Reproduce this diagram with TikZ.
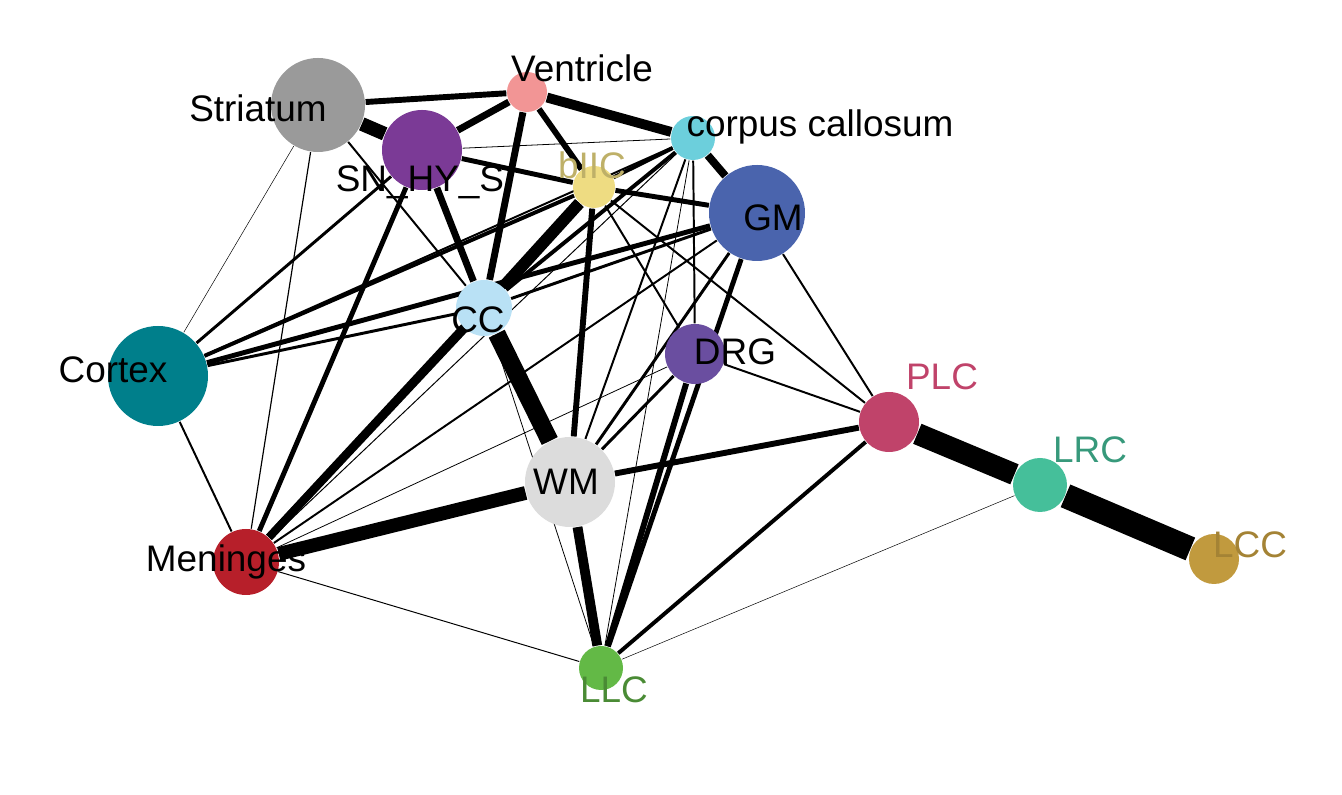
\documentclass[tikz,border=0pt]{standalone}
\usepackage{fontspec}
\setmainfont{Liberation Sans}
\usetikzlibrary{backgrounds}
\definecolor{cStr}{HTML}{9A9A9A}
\definecolor{cSN}{HTML}{7B3A96}
\definecolor{cVen}{HTML}{F29595}
\definecolor{cCor}{HTML}{6CCFDC}
\definecolor{cBIIC}{HTML}{EEDC82}
\definecolor{cGM}{HTML}{4A64AD}
\definecolor{cCC}{HTML}{B9E1F5}
\definecolor{cCtx}{HTML}{007F8B}
\definecolor{cDRG}{HTML}{6A4EA0}
\definecolor{cPLC}{HTML}{C0436A}
\definecolor{cLRC}{HTML}{45BF9A}
\definecolor{cLCC}{HTML}{C19A3E}
\definecolor{cWM}{HTML}{DCDCDC}
\definecolor{cMen}{HTML}{B71F2A}
\definecolor{cLLC}{HTML}{63B946}
\tikzset{
  vtx/.style={circle, inner sep=0pt},
  lbl/.style={inner sep=0pt, font=\fontsize{10.5}{12}\selectfont},
}
\begin{document}
\begin{tikzpicture}[x=0.01cm, y=-0.01cm]
    \useasboundingbox (0,0) rectangle (1342,795);
    % Vertices
    \foreach \n/\x/\y/\d/\c in {Str/318/105/94/cStr, SN/422/150/80/cSN, Ven/527/92/40/cVen,
        Cor/693/138/44/cCor, BIIC/594/187/42/cBIIC, GM/757/213/96/cGM, CC/484/308/56/cCC,
        Ctx/158/376/100/cCtx, DRG/695/354/60/cDRG, PLC/889/422/60/cPLC, LRC/1040/485/54/cLRC,
        LCC/1214/559/50/cLCC, WM/570/482/90/cWM, Men/246/562/66/cMen, LLC/601/668/44/cLLC} {
        \node[vtx, fill=\c, minimum size=\d*0.01cm] (\n) at (\x,\y) {};
    }
    % Edges (width in px)
    \begin{scope}[on background layer]
    \foreach \a/\b/\w in {Str/Ven/6, Str/SN/14, Str/Ctx/0.5, Str/Men/1.2, Str/CC/2,
        SN/Ven/7, SN/CC/7, SN/Men/5, SN/Ctx/3, SN/BIIC/5, SN/Cor/0.8,
        Ven/Cor/10, Ven/CC/7, Ven/BIIC/6,
        Cor/GM/8, Cor/BIIC/4, Cor/CC/4, Cor/WM/2, Cor/LLC/0.8, Cor/Men/1, Cor/DRG/2,
        BIIC/GM/5, BIIC/CC/12, BIIC/WM/6, BIIC/Men/8, BIIC/Ctx/4, BIIC/PLC/2, BIIC/DRG/2,
        GM/Ctx/5, GM/CC/3, GM/WM/3, GM/LLC/5, GM/PLC/2, GM/Men/2,
        Ctx/CC/3, Ctx/Men/2, Ctx/Cor/2,
        CC/WM/18, CC/Men/8, CC/LLC/0.8,
        DRG/PLC/2, DRG/LLC/6, DRG/WM/3, DRG/Men/0.8,
        WM/Men/14, WM/PLC/6, WM/LLC/10,
        Men/LLC/1, PLC/LLC/4, PLC/LRC/22, LRC/LCC/25, LRC/LLC/0.5} {
        \draw[line width=\w*0.28pt] (\a) -- (\b);
    }
    \end{scope}
    % Labels
    \node[lbl] (Str-t) at (258,108) {Striatum};
    \node[lbl] (SN-t) at (420,182) {SN\_HY\_S};
    \node[lbl] (Ven-t) at (582,68) {Ventricle};
    \node[lbl] (Cor-t) at (820,127) {corpus callosum};
    \node[lbl, text=cBIIC!80!black] (BIIC-t) at (592,165) {bIIC};
    \node[lbl] (GM-t) at (773,218) {GM};
    \node[lbl] (CC-t) at (478,320) {CC};
    \node[lbl] (Ctx-t) at (113,370) {Cortex};
    \node[lbl] (DRG-t) at (735,352) {DRG};
    \node[lbl, text=cPLC] (PLC-t) at (942,377) {PLC};
    \node[lbl, text=cLRC!80!black] (LRC-t) at (1090,450) {LRC};
    \node[lbl, text=cLCC!85!black] (LCC-t) at (1250,545) {LCC};
    \node[lbl] (WM-t) at (566,482) {WM};
    \node[lbl] (Men-t) at (226,562) {Meninges};
    \node[lbl, text=cLLC!75!black] (LLC-t) at (614,690) {LLC};
\end{tikzpicture}
\end{document}
